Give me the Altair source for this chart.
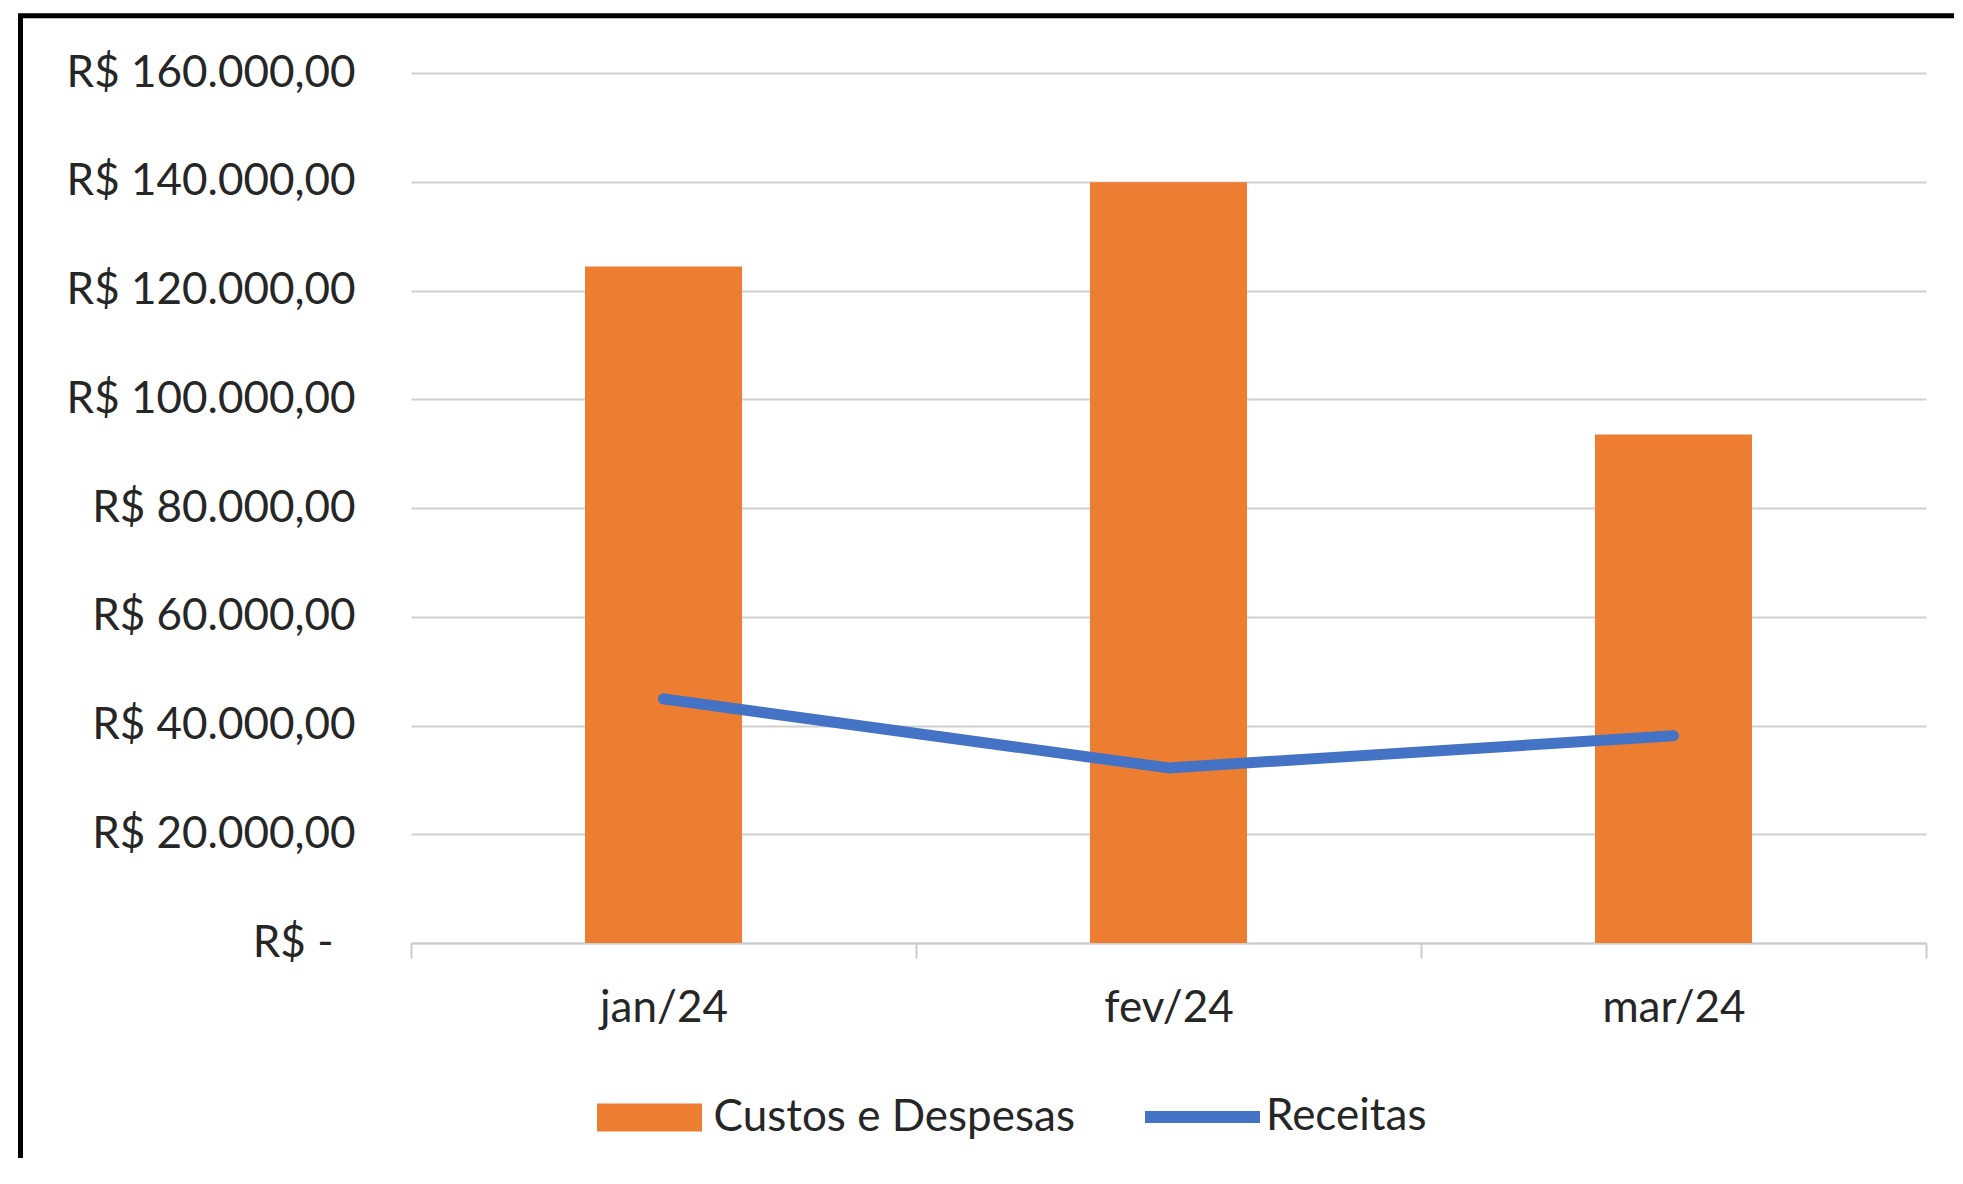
import altair as alt
import pandas as pd

# ---- data ----
meses = ["jan/24", "fev/24", "mar/24"]
custos = [124400, 139900, 93500]       # Custos e Despesas (bars)
receitas = [44900, 32200, 38100]       # Receitas (line)
y_ticks = [0, 20000, 40000, 60000, 80000, 100000, 120000, 140000, 160000]

serie_barras = "Custos e Despesas"
serie_linha = "Receitas"

df = pd.DataFrame({
    "mes": meses,
    "custos": custos,
    "receitas": receitas,
    "s_barras": [serie_barras] * len(meses),
    "s_linha": [serie_linha] * len(meses),
})

W, H = 1515, 870
FONT = "Lato"
TXT = "#262626"
GRID = "#d0d0d0"
ORANGE = "#ED7D31"
BLUE = "#4472C4"

x_enc = alt.X(
    "mes:N", sort=meses, title=None,
    scale=alt.Scale(paddingInner=0, paddingOuter=0),
    axis=alt.Axis(labelAngle=0, tickBand="extent", tickSize=15, tickWidth=2,
                  tickColor="#cccccc", domainColor="#cccccc", domainWidth=2,
                  labelPadding=28, labelFontSize=44, labelFont=FONT,
                  labelColor=TXT, grid=False),
)

y_scale = alt.Scale(domain=[0, 160000], nice=False)

frame = alt.Chart(alt.Data(values=[{"f": 1}])).mark_rect(
    fill="transparent", stroke="#000000", strokeWidth=5
).encode(
    x=alt.value(-390.5), x2=alt.value(W + 200),
    y=alt.value(-57.2), y2=alt.value(H + 400),
)

bars = alt.Chart(df).mark_bar(size=157).encode(
    x=x_enc,
    y=alt.Y("custos:Q", scale=y_scale, title=None,
            axis=alt.Axis(values=y_ticks, format="$,.2f",
                          labelExpr="datum.value == 0 ? 'R$ -\u2002\u2060' : datum.label",
                          grid=True, gridColor=GRID, gridWidth=2,
                          domain=False, ticks=False, tickSize=0,
                          labelPadding=56, labelFontSize=44, labelFont=FONT,
                          labelColor=TXT, labelLimit=0)),
    fill=alt.Fill("s_barras:N", title=None,
                  scale=alt.Scale(domain=[serie_barras], range=[ORANGE]),
                  legend=alt.Legend(orient="none", legendX=186, legendY=992,
                                    title=None, padding=0,
                                    symbolType="M-1,-0.267H1V0.267H-1Z",
                                    symbolSize=11025, symbolStrokeWidth=0,
                                    labelFontSize=44, labelFont=FONT,
                                    labelColor=TXT, labelOffset=11.6,
                                    labelLimit=0)),
)

line = alt.Chart(df).mark_line(strokeWidth=11, strokeCap="round", strokeJoin="round").encode(
    x=x_enc,
    y=alt.Y("receitas:Q", scale=y_scale, title=None),
    stroke=alt.Stroke("s_linha:N", title=None,
                      scale=alt.Scale(domain=[serie_linha], range=[BLUE]),
                      legend=alt.Legend(orient="none", legendX=728, legendY=980.5,
                                        title=None, padding=0,
                                        symbolType="stroke", symbolSize=13225,
                                        symbolStrokeWidth=12,
                                        labelFontSize=44, labelFont=FONT,
                                        labelColor=TXT, labelOffset=0,
                                        labelLimit=0)),
)

chart = alt.layer(frame, bars, line).resolve_scale(
    fill="independent", stroke="independent"
).properties(
    width=W, height=H,
    autosize=alt.AutoSizeParams(type="none"),
    padding={"left": 403, "top": 65, "right": 28, "bottom": 215},
    background="white",
).configure(
    locale={"number": {"decimal": ",", "thousands": ".", "grouping": [3],
                       "currency": ["R$ ", ""]}},
).configure_view(stroke=None)

chart.save("out.html", embed_options={"renderer": "svg", "actions": False})
